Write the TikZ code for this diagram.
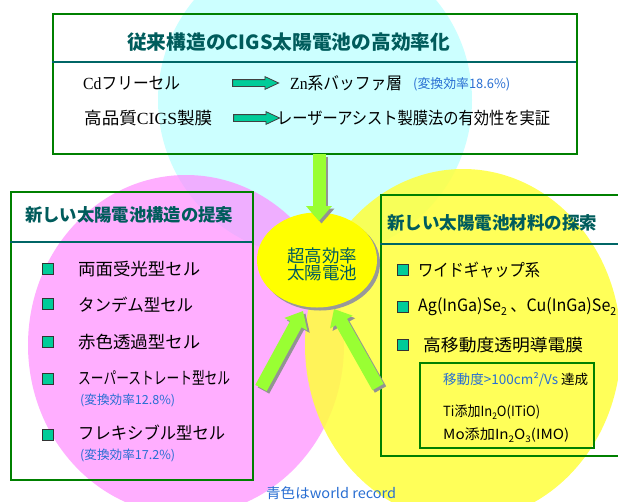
\documentclass[tikz,border=0pt]{standalone}
\usepackage{fontspec}
\setmainfont{Noto Sans CJK JP}
\newfontfamily\latinserif{Liberation Serif}
\usetikzlibrary{arrows.meta,shapes.geometric,shapes.arrows,shadows}
\definecolor{boxgreen}{RGB}{0,128,0}
\definecolor{titleteal}{RGB}{0,92,92}
\definecolor{divteal}{RGB}{0,102,102}
\definecolor{effblue}{RGB}{40,110,210}
\definecolor{cyanc}{RGB}{204,255,255}
\definecolor{pinkc}{RGB}{255,140,255}
\definecolor{yellc}{RGB}{255,255,60}
\definecolor{arrgreen}{RGB}{153,255,51}
\definecolor{bulletc}{RGB}{0,204,153}
\definecolor{elly}{RGB}{255,255,0}
\newcommand\fs[1]{\fontsize{#1}{#1}\selectfont}
\newcommand\fitw[2]{\resizebox{#1}{\height}{#2}}
\newcommand\dn[1]{\raisebox{-0.45ex}{\scalebox{0.65}{#1}}}
\begin{document}
\begin{tikzpicture}[x=1pt,y=-1pt,
  txt/.style={inner sep=0pt, anchor=west},
  itemtxt/.style={txt, font=\fs{17}},
  efftxt/.style={txt, font=\fs{12.5}, text=effblue},
  titletxt/.style={txt, font=\fs{17.5}\bfseries, text=titleteal},
  boxframe/.style={draw=boxgreen, line width=2.2pt, inner sep=0pt, anchor=north west},
  divider/.style={draw=divteal, line width=1.8pt},
  bul/.style={draw=black!80, fill=bulletc, line width=0.8pt, minimum size=11pt, inner sep=0pt},
  bigarrow/.style={draw=arrgreen, line width=13pt, -{Triangle[width=25pt,length=15pt]}},
  bigshadow/.style={draw=gray!85, line width=13pt, -{Triangle[width=25pt,length=15pt]}, transform canvas={shift={(2.5,2.5)}}},
  tarrow/.style={single arrow, draw=black!75, fill=bulletc, line width=0.8pt, inner xsep=0pt, inner ysep=3pt, single arrow head extend=3pt, single arrow tip angle=50, minimum height=46pt}
]
\useasboundingbox (0,0) rectangle (618,501);
\begin{scope}
\clip (0,0) rectangle (618,501);
% background circles
\fill[cyanc] (315,100) circle[radius=157];
\fill[pinkc, fill opacity=0.7] (186,345) ellipse[x radius=158, y radius=170];
\fill[yellc, fill opacity=0.85] (463,345) ellipse[x radius=158, y radius=176];
% boxes
\node[boxframe, minimum width=524pt, minimum height=140pt] (topbox) at (52,13) {};
\draw[divider] (52,62) -- (576,62);
\node[boxframe, minimum width=242pt, minimum height=288pt] (leftbox) at (10,191) {};
\draw[divider] (10,242) -- (252,242);
\node[boxframe, minimum width=260pt, minimum height=261pt] (rightbox) at (380,194) {};
\draw[divider] (380,244) -- (640,244);
\node[boxframe, minimum width=174pt, minimum height=85pt] (innerbox) at (419,362) {};
\end{scope}
% core ellipse
\node[ellipse, fill=elly, minimum width=120pt, minimum height=95pt, inner sep=0pt,
  drop shadow={shadow xshift=3pt, shadow yshift=-3pt, fill=gray!80, opacity=1}] (core) at (317,260) {};
\node[inner sep=0pt, align=center, text=titleteal, font=\fs{17.5}] (coretext) at (322,264.5)
  {\fontsize{17.5}{25}\selectfont 超高効率\\太陽電池};
% big arrows
\coordinate (t1) at (319,154);
\coordinate (h1) at (319,221);
\coordinate (t2) at (261,388);
\coordinate (h2) at (303,311);
\coordinate (t3) at (378,387);
\coordinate (h3) at (334,309);
\draw[bigshadow] (t1) -- (h1);
\draw[bigshadow] (t2) -- (h2);
\draw[bigshadow] (t3) -- (h3);
\draw[bigarrow] (t1) -- (h1);
\draw[bigarrow] (t2) -- (h2);
\draw[bigarrow] (t3) -- (h3);
% top box content
\node[txt, font=\fs{19.5}\bfseries, text=titleteal] (toptitle) at (127,42) {\fitw{323pt}{従来構造のCIGS太陽電池の高効率化}};
\node[itemtxt] (cd) at (83,83) {\fitw{97pt}{{\latinserif Cd}フリーセル}};
\node[tarrow] (ar1) at (252,83) {};
\node[itemtxt] (zn) at (290,83) {\fitw{112pt}{{\latinserif Zn}系バッファ層}};
\node[efftxt, font=\fs{13}] (eff1) at (413,84) {\fitw{97pt}{(変換効率18.6\%)}};
\node[itemtxt] (cigs) at (84,118) {\fitw{128pt}{高品質{\latinserif CIGS}製膜}};
\node[tarrow] (ar2) at (253,118) {};
\node[itemtxt] (laser) at (277,118) {\fitw{273pt}{レーザーアシスト製膜法の有効性を実証}};
% left box content
\node[titletxt] (ltitle) at (25,215) {\fitw{208pt}{新しい太陽電池構造の提案}};
\node[bul] (lb1) at (48,269) {};
\node[bul] (lb2) at (48,304) {};
\node[bul] (lb3) at (48,342) {};
\node[bul] (lb4) at (48,379) {};
\node[bul] (lb5) at (48,435) {};
\node[itemtxt] (li1) at (78,269) {\fitw{122pt}{両面受光型セル}};
\node[itemtxt] (li2) at (78,305) {\fitw{115pt}{タンデム型セル}};
\node[itemtxt] (li3) at (78,342) {\fitw{122pt}{赤色透過型セル}};
\node[itemtxt] (li4) at (78,378) {\fitw{152pt}{スーパーストレート型セル}};
\node[efftxt] (le4) at (80,400) {\fitw{95pt}{(変換効率12.8\%)}};
\node[itemtxt] (li5) at (78,433) {\fitw{147pt}{フレキシブル型セル}};
\node[efftxt] (le5) at (80,455) {\fitw{95pt}{(変換効率17.2\%)}};
% right box content
\node[titletxt] (rtitle) at (387,223) {\fitw{210pt}{新しい太陽電池材料の探索}};
\node[bul] (rb1) at (403,270) {};
\node[bul] (rb2) at (403,307) {};
\node[bul] (rb3) at (403,345) {};
\node[itemtxt] (ri1) at (418,270) {\fitw{122pt}{ワイドギャップ系}};
\node[itemtxt] (ri2) at (418,307) {\fitw{198pt}{Ag(InGa)Se\dn{2} 、Cu(InGa)Se\dn{2}}};
\node[itemtxt] (ri3) at (423,345) {\fitw{160pt}{高移動度透明導電膜}};
\node[txt, font=\fs{13.5}] (m1) at (443,380) {\fitw{145pt}{\textcolor{effblue}{移動度>100cm²/Vs} 達成}};
\node[txt, font=\fs{14}] (m2) at (443,412) {\fitw{97pt}{Ti添加In\dn{2}O(ITiO)}};
\node[txt, font=\fs{14}] (m3) at (443,435) {\fitw{126pt}{Mo添加In\dn{2}O\dn{3}(IMO)}};
% bottom note
\node[txt, font=\fs{14}, text=effblue] (note) at (266,493) {\fitw{130pt}{青色はworld record}};
\end{tikzpicture}
\end{document}
